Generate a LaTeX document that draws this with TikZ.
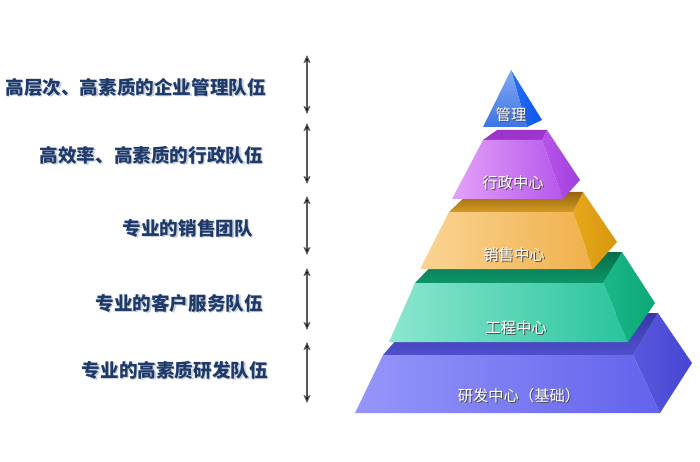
\documentclass[tikz,border=0pt]{standalone}
\usepackage{fontspec}
\newfontfamily\cjk{Noto Sans CJK SC}
\usetikzlibrary{arrows.meta}
\definecolor{navy}{HTML}{1F3A68}
\definecolor{navyshadow}{HTML}{C4CEDF}
% layer 5
\definecolor{vRa}{RGB}{88,88,222}\definecolor{vRb}{RGB}{70,70,210}
\definecolor{vTa}{RGB}{56,56,170}\definecolor{vTb}{RGB}{80,80,206}
\definecolor{vFa}{RGB}{150,150,250}\definecolor{vFb}{RGB}{98,98,236}
% layer 4
\definecolor{gRa}{RGB}{26,184,138}\definecolor{gRb}{RGB}{14,166,118}
\definecolor{gTa}{RGB}{6,110,76}\definecolor{gTb}{RGB}{14,150,104}
\definecolor{gFa}{RGB}{140,230,208}\definecolor{gFb}{RGB}{40,196,154}
% layer 3
\definecolor{oRa}{RGB}{232,168,28}\definecolor{oRb}{RGB}{214,150,14}
\definecolor{oTa}{RGB}{150,100,10}\definecolor{oTb}{RGB}{212,154,36}
\definecolor{oFa}{RGB}{250,212,148}\definecolor{oFb}{RGB}{240,176,74}
% layer 2
\definecolor{pRa}{RGB}{184,84,232}\definecolor{pRb}{RGB}{160,64,220}
\definecolor{pT}{RGB}{156,52,204}
\definecolor{pFa}{RGB}{226,162,248}\definecolor{pFb}{RGB}{182,86,236}
% layer 1
\definecolor{bRa}{RGB}{42,110,240}\definecolor{bRb}{RGB}{10,86,238}
\definecolor{bFa}{RGB}{130,170,242}\definecolor{bFb}{RGB}{60,116,228}
\begin{document}
\begin{tikzpicture}[x=1pt,y=-1pt,
  lefttext/.style={font=\cjk\bfseries\fontsize{18.6}{20}\selectfont, text=navy, anchor=east, inner sep=0pt},
  leftshadow/.style={font=\cjk\bfseries\fontsize{18.6}{20}\selectfont, text=navyshadow, anchor=east, inner sep=0pt},
  pyrtext/.style={font=\cjk\fontsize{15.3}{16}\selectfont, text=white, inner sep=0pt},
  pyrshadow/.style={font=\cjk\fontsize{15.3}{16}\selectfont, text=black!70, inner sep=0pt},
  dimarrow/.style={{Stealth[length=8pt,width=7pt,inset=1.5pt,fill=black]}-{Stealth[length=8pt,width=7pt,inset=1.5pt,fill=black]}, line width=1.1pt, draw=black!65}
]
\useasboundingbox (0,0) rectangle (700,462);
\fill[white] (0,0) rectangle (700,462);

% ---- layer 5 (R&D, base)
\shade[left color=vRa, right color=vRb]
  (633,355) -- (658,313) -- (692,363) -- (660,413) -- cycle;
\shade[top color=vTa, bottom color=vTb] (383,355) -- (633,355) -- (658,313) -- (420,313) -- cycle;
\shade[left color=vFa, right color=vFb]
  (383,355) -- (633,355) -- (660,413) -- (355,413) -- cycle;

% ---- layer 4 (engineering)
\shade[left color=gRa, right color=gRb]
  (603,283) -- (622,252) -- (655,303) -- (628,342) -- cycle;
\shade[top color=gTa, bottom color=gTb]
  (415,283) -- (603,283) -- (622,252) -- (445,252) -- cycle;
\shade[left color=gFa, right color=gFb]
  (415,283) -- (603,283) -- (628,342) -- (389,342) -- cycle;

% ---- layer 3 (sales)
\shade[left color=oRa, right color=oRb]
  (573,212) -- (583,192) -- (617,242) -- (593,269) -- cycle;
\shade[top color=oTa, bottom color=oTb]
  (449,212) -- (573,212) -- (583,192) -- (470,192) -- cycle;
\shade[left color=oFa, right color=oFb]
  (449,212) -- (573,212) -- (593,269) -- (420,269) -- cycle;

% ---- layer 2 (administration)
\shade[left color=pRa, right color=pRb]
  (542,140) -- (547,130) -- (580,180) -- (563,199) -- cycle;
\fill[pT] (483,140) -- (542,140) -- (547,130) -- (497,130) -- cycle;
\shade[left color=pFa, right color=pFb]
  (483,140) -- (542,140) -- (563,199) -- (452,199) -- cycle;

% ---- layer 1 (management, apex)
\shade[left color=bRa, right color=bRb]
  (511,70) -- (527,127) -- (542,120) -- cycle;
\shade[top color=bFa, bottom color=bFb]
  (511,70) -- (527,127) -- (483,127) -- cycle;

% ---- pyramid labels
\node[pyrshadow] (p1s) at (512,116) {管理};
\node[pyrtext]   (p1)  at (511,115) {管理};
\node[pyrshadow] (p2s) at (514,184) {行政中心};
\node[pyrtext]   (p2)  at (513,183) {行政中心};
\node[pyrshadow] (p3s) at (515,256) {销售中心};
\node[pyrtext]   (p3)  at (514,255) {销售中心};
\node[pyrshadow] (p4s) at (517,329) {工程中心};
\node[pyrtext]   (p4)  at (516,328) {工程中心};
\node[pyrshadow] (p5s) at (520,397) {研发中心（基础）};
\node[pyrtext]   (p5)  at (519,396) {研发中心（基础）};

% ---- left labels
\node[leftshadow] (t1s) at (267.5,88.5) {高层次、高素质的企业管理队伍};
\node[lefttext]   (t1)  at (266,87)  {高层次、高素质的企业管理队伍};
\node[leftshadow] (t2s) at (264.5,156.5) {高效率、高素质的行政队伍};
\node[lefttext]   (t2)  at (263,155) {高效率、高素质的行政队伍};
\node[leftshadow] (t3s) at (254.5,229.5) {专业的销售团队};
\node[lefttext]   (t3)  at (253,228) {专业的销售团队};
\node[leftshadow] (t4s) at (264.5,304.5) {专业的客户服务队伍};
\node[lefttext]   (t4)  at (263,303) {专业的客户服务队伍};
\node[leftshadow] (t5s) at (269.5,371.5) {专业的高素质研发队伍};
\node[lefttext]   (t5)  at (268,370) {专业的高素质研发队伍};

% ---- arrows
\coordinate (a1t) at (307,55);  \coordinate (a1b) at (307,114);
\coordinate (a2t) at (307,123); \coordinate (a2b) at (307,184);
\coordinate (a3t) at (307,196); \coordinate (a3b) at (307,255);
\coordinate (a4t) at (307,268); \coordinate (a4b) at (307,330);
\coordinate (a5t) at (307,342); \coordinate (a5b) at (307,403);
\draw[dimarrow] (a1t) -- (a1b);
\draw[dimarrow] (a2t) -- (a2b);
\draw[dimarrow] (a3t) -- (a3b);
\draw[dimarrow] (a4t) -- (a4b);
\draw[dimarrow] (a5t) -- (a5b);
\end{tikzpicture}
\end{document}
